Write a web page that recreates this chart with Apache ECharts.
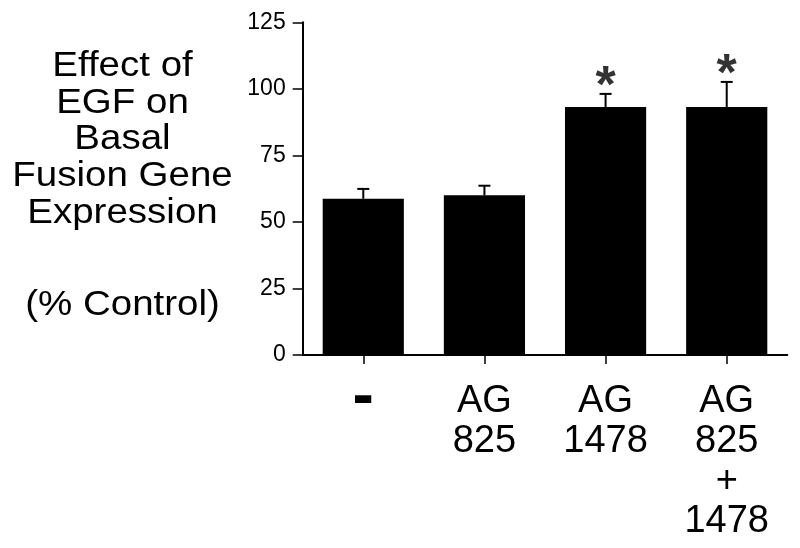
<!DOCTYPE html>
<html>
<head>
<meta charset="utf-8">
<script src="https://cdn.jsdelivr.net/npm/echarts@6/dist/echarts.min.js"></script>
<style>
  html, body { margin: 0; padding: 0; background: #fff; }
  #chart { width: 800px; height: 548px; }
</style>
</head>
<body>
<div id="chart"></div>
<script>
// ---- data ----
var categories = ['-', 'AG\n825', 'AG\n1478', 'AG\n825\n+\n1478'];
var means = [58.7, 60.0, 93.2, 93.2];
var sem = [3.7, 3.6, 4.9, 9.4];
var significant = ['', '', '*', '*'];
var yTicks = [0, 25, 50, 75, 100, 125];
var titleLines = ['Effect of', 'EGF on', 'Basal', 'Fusion Gene', 'Expression'];
var unitLine = '(% Control)';

var FONT = '"Liberation Sans", Arial, Helvetica, sans-serif';

var errData = categories.map(function (c, i) { return [i, means[i], means[i] + sem[i]]; });
var starData = [];
categories.forEach(function (c, i) {
  if (significant[i]) starData.push({ value: [i, means[i] + sem[i]], mark: significant[i] });
});

var chart = echarts.init(document.getElementById('chart'), null, { renderer: 'canvas' });
chart.setOption({
  animation: false,
  backgroundColor: '#fff',
  grid: { left: 302.7, right: 12.7, top: 22.3, bottom: 193, containLabel: false, outerBoundsMode: 'none' },
  graphic: [
    {
      type: 'text', x: 122.5, y: 48, scaleX: 1.1,
      style: { text: titleLines.join('\n'), font: '35px ' + FONT, fill: '#000', textAlign: 'center', textVerticalAlign: 'top', lineHeight: 36.7 }
    },
    {
      type: 'text', x: 122.5, y: 286.5, scaleX: 1.1,
      style: { text: unitLine, font: '35px ' + FONT, fill: '#000', textAlign: 'center', textVerticalAlign: 'top', lineHeight: 36.7 }
    }
  ],
  xAxis: {
    type: 'category',
    data: categories,
    boundaryGap: true,
    axisLine: { lineStyle: { color: '#000', width: 2 } },
    axisTick: { show: true, alignWithLabel: true, length: 9, lineStyle: { color: '#000', width: 1.5 } },
    axisLabel: {
      interval: 0, margin: 27, color: '#000', fontFamily: FONT, fontSize: 38, lineHeight: 40,
      formatter: function (v, i) { return i === 0 ? '{dash|' + v + '}' : v; },
      rich: { dash: { fontFamily: FONT, fontSize: 64, fontWeight: 'bold', lineHeight: 32, color: '#000' } }
    },
    splitLine: { show: false }
  },
  yAxis: {
    type: 'value',
    min: yTicks[0], max: yTicks[yTicks.length - 1], interval: 25,
    axisLine: { show: true, lineStyle: { color: '#000', width: 2 } },
    axisTick: { show: true, length: 10, lineStyle: { color: '#000', width: 1.5 } },
    axisLabel: { margin: 17, color: '#000', fontFamily: FONT, fontSize: 23 },
    splitLine: { show: false }
  },
  series: [
    {
      type: 'bar', data: means, barWidth: '67%',
      itemStyle: { color: '#000' }, z: 2
    },
    {
      type: 'custom', data: errData, z: 3,
      renderItem: function (params, api) {
        var x = api.value(0);
        var p0 = api.coord([x, api.value(1)]);
        var p1 = api.coord([x, api.value(2)]);
        var half = 6;
        return {
          type: 'group',
          children: [
            { type: 'line', shape: { x1: p0[0], y1: p0[1], x2: p1[0], y2: p1[1] }, style: { stroke: '#000', lineWidth: 2 } },
            { type: 'line', shape: { x1: p1[0] - half, y1: p1[1], x2: p1[0] + half, y2: p1[1] }, style: { stroke: '#000', lineWidth: 2 } }
          ]
        };
      }
    },
    {
      type: 'scatter', data: starData, symbolSize: 1, itemStyle: { color: 'rgba(0,0,0,0)' }, z: 4,
      label: {
        show: true, position: 'inside', offset: [0, -6],
        formatter: function (p) { return p.data.mark; },
        fontFamily: FONT, fontSize: 52, fontWeight: 'bold', color: '#000'
      }
    }
  ]
});
</script>
</body>
</html>
